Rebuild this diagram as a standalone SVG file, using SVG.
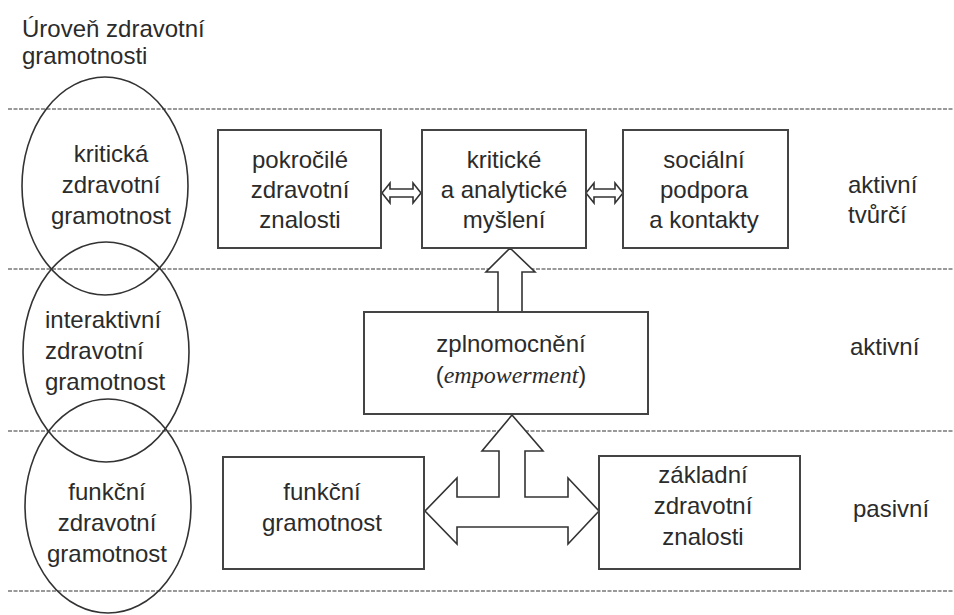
<svg xmlns="http://www.w3.org/2000/svg" width="954" height="615" viewBox="0 0 954 615">
<style>
text{font-family:"Liberation Sans",Arial,sans-serif;font-size:24px;fill:#2b2b2b}
.c{text-anchor:middle}
.box{fill:#fff;stroke:#444;stroke-width:2}
.ell{fill:none;stroke:#333;stroke-width:1.6}
.dash{stroke:#999;stroke-width:2;stroke-dasharray:4 1.5}
.arr{fill:#fff;stroke:#333;stroke-width:1.6;stroke-linejoin:miter}
.em{font-family:"Liberation Serif","Times New Roman",serif;font-style:italic}
</style>
<rect width="954" height="615" fill="#fff"/>
<g id="levels">
<line class="dash" x1="8" y1="109" x2="954" y2="109"/>
<line class="dash" x1="8" y1="269" x2="954" y2="269"/>
<line class="dash" x1="8" y1="431" x2="954" y2="431"/>
<line class="dash" x1="8" y1="591" x2="954" y2="591"/>
</g>
<g id="title">
<text x="22" y="37">Úroveň zdravotní</text>
<text x="22" y="64">gramotnosti</text>
</g>
<g id="e-kriticka">
<ellipse class="ell" cx="105" cy="186" rx="83" ry="109"/>
<text class="c" x="111" y="162">kritická</text>
<text class="c" x="111" y="193">zdravotní</text>
<text class="c" x="111" y="224">gramotnost</text>
</g>
<g id="e-interaktivni">
<ellipse class="ell" cx="106" cy="352" rx="83" ry="110"/>
<text x="45" y="328">interaktivní</text>
<text x="45" y="359">zdravotní</text>
<text x="45" y="390">gramotnost</text>
</g>
<g id="e-funkcni">
<ellipse class="ell" cx="108" cy="506" rx="83" ry="107"/>
<text class="c" x="107" y="500">funkční</text>
<text class="c" x="107" y="531">zdravotní</text>
<text class="c" x="107" y="562">gramotnost</text>
</g>
<g id="connectors">
<polygon class="arr" points="382,193 390,183 390,189 413,189 413,183 421,193 413,203 413,197 390,197 390,203"/>
<polygon class="arr" points="586,193 594,183 594,189 615,189 615,183 623,193 615,203 615,197 594,197 594,203"/>
<polygon class="arr" points="510,248 535,272 522,272 522,312 498,312 498,272 486,272"/>
<polygon class="arr" points="512,415 543,451 525,451 525,497 568,497 568,478 599,511 568,544 568,527 457,527 457,544 425,511 457,478 457,497 499,497 499,451 482,451"/>
</g>
<g id="n-pokrocile">
<rect class="box" x="218" y="130" width="163" height="118"/>
<text class="c" x="300" y="168">pokročilé</text>
<text class="c" x="300" y="198">zdravotní</text>
<text class="c" x="300" y="228">znalosti</text>
</g>
<g id="n-kriticke">
<rect class="box" x="422" y="130" width="164" height="118"/>
<text class="c" x="504" y="168">kritické</text>
<text class="c" x="504" y="198">a analytické</text>
<text class="c" x="504" y="228">myšlení</text>
</g>
<g id="n-socialni">
<rect class="box" x="623" y="130" width="165" height="118"/>
<text class="c" x="704" y="168">sociální</text>
<text class="c" x="704" y="198">podpora</text>
<text class="c" x="704" y="228">a kontakty</text>
</g>
<g id="n-zplnomocneni">
<rect class="box" x="364" y="312" width="284" height="102"/>
<text class="c" x="511" y="352">zplnomocnění</text>
<text class="c" x="511" y="383">(<tspan class="em">empowerment</tspan>)</text>
</g>
<g id="n-funkcni">
<rect class="box" x="223" y="457" width="201" height="112"/>
<text class="c" x="322" y="500">funkční</text>
<text class="c" x="322" y="531">gramotnost</text>
</g>
<g id="n-zakladni">
<rect class="box" x="599" y="456" width="201" height="113"/>
<text class="c" x="703" y="483">základní</text>
<text class="c" x="703" y="514">zdravotní</text>
<text class="c" x="703" y="545">znalosti</text>
</g>
<g id="labels">
<text x="848" y="193">aktivní</text>
<text x="848" y="223">tvůrčí</text>
<text x="850" y="355">aktivní</text>
<text x="853" y="517">pasivní</text>
</g>
</svg>
